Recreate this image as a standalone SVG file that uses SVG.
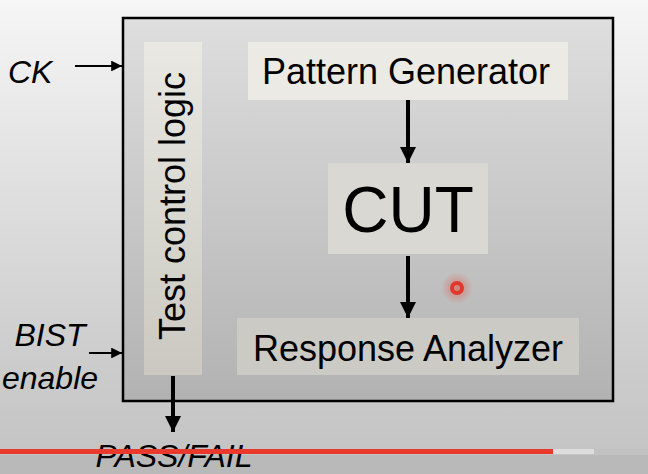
<svg xmlns="http://www.w3.org/2000/svg" width="648" height="474" viewBox="0 0 648 474">
  <defs>
    <linearGradient id="bg" x1="0" y1="0" x2="0" y2="1">
      <stop offset="0" stop-color="#f6f6f6"/>
      <stop offset="0.35" stop-color="#e2e2e2"/>
      <stop offset="0.75" stop-color="#cdcdcd"/>
      <stop offset="1" stop-color="#c2c2c2"/>
    </linearGradient>
    <linearGradient id="boxg" x1="0" y1="0" x2="0" y2="1">
      <stop offset="0" stop-color="#dedede"/>
      <stop offset="1" stop-color="#b2b2b2"/>
    </linearGradient>
    <linearGradient id="tclg" x1="0" y1="0" x2="0" y2="1">
      <stop offset="0" stop-color="#e9e8e2"/>
      <stop offset="1" stop-color="#cac8c1"/>
    </linearGradient>
    <radialGradient id="glow">
      <stop offset="0" stop-color="#e84030" stop-opacity="0.5"/>
      <stop offset="1" stop-color="#e84030" stop-opacity="0"/>
    </radialGradient>
    <marker id="ahThick" viewBox="0 0 10 10" refX="10" refY="5" markerWidth="4" markerHeight="4" orient="auto" markerUnits="strokeWidth">
      <path d="M0,0 L10,5 L0,10 Z" fill="#000"/>
    </marker>
    <marker id="ahThin" viewBox="0 0 10 10" refX="10" refY="5" markerWidth="7" markerHeight="6" orient="auto" markerUnits="strokeWidth">
      <path d="M0,0 L10,5 L0,10 Z" fill="#000"/>
    </marker>
  </defs>
  <style>
    .lbl { font-family: "Liberation Sans", Arial, sans-serif; fill: #000; }
    .ital { font-family: "Liberation Sans", Arial, sans-serif; font-style: italic; fill: #000; font-size: 32px; }
    .thick { stroke: #000; stroke-width: 4; fill: none; marker-end: url(#ahThick); }
    .thin { stroke: #000; stroke-width: 1.8; fill: none; marker-end: url(#ahThin); }
  </style>

  <!-- background -->
  <rect x="0" y="0" width="648" height="474" fill="url(#bg)"/>
  <rect x="0" y="455" width="648" height="19" fill="#b9b9b9"/>

  <!-- outer BIST block -->
  <g id="bist-block">
    <rect x="123" y="18" width="490" height="383" fill="url(#boxg)" stroke="#000" stroke-width="2.5"/>
  </g>

  <g id="test-control-logic">
    <rect x="144" y="42" width="58" height="333" fill="url(#tclg)"/>
    <text class="lbl" font-size="36" text-anchor="middle" transform="translate(185,206) rotate(-90)">Test control logic</text>
  </g>

  <g id="pattern-generator">
    <rect x="248" y="42" width="320" height="58" fill="#ebeae4"/>
    <text class="lbl" x="406" y="84" font-size="36" text-anchor="middle">Pattern Generator</text>
  </g>

  <g id="cut">
    <rect x="328" y="163" width="160" height="91" fill="#d9d8d2"/>
    <text class="lbl" x="408" y="232" font-size="64" text-anchor="middle">CUT</text>
  </g>

  <g id="response-analyzer">
    <rect x="237" y="318" width="342" height="57" fill="#cbcac4"/>
    <text class="lbl" x="408" y="361" font-size="36" text-anchor="middle">Response Analyzer</text>
  </g>

  <g id="ck-label">
    <text class="ital" x="8" y="83" font-size="33">CK</text>
  </g>
  <g id="bist-enable-label">
    <text class="ital" x="50" y="346" text-anchor="middle">BIST</text>
    <text class="ital" x="50" y="389" text-anchor="middle">enable</text>
  </g>
  <g id="pass-fail-label">
    <text class="ital" x="174" y="467" font-size="30" text-anchor="middle">PASS/FAIL</text>
  </g>

  <g id="connectors">
    <line class="thin" x1="75" y1="66" x2="122" y2="66"/>
    <line class="thin" x1="89" y1="353" x2="122" y2="353"/>
    <line class="thick" x1="408" y1="100" x2="408" y2="163"/>
    <line class="thick" x1="408" y1="256" x2="408" y2="318"/>
    <line class="thick" x1="173" y1="376" x2="173" y2="432"/>
  </g>

  <!-- video overlay: progress bar and cursor -->
  <rect x="0" y="449" width="553" height="5" fill="#e8392c"/>
  <rect x="553" y="449" width="41" height="5" fill="#dddddd"/>
  <rect x="594" y="449" width="54" height="5" fill="#c2c2c2"/>
  <circle cx="457" cy="288" r="16" fill="url(#glow)"/>
  <circle cx="457" cy="288" r="5" fill="none" stroke="#e0382b" stroke-width="4"/>
</svg>
